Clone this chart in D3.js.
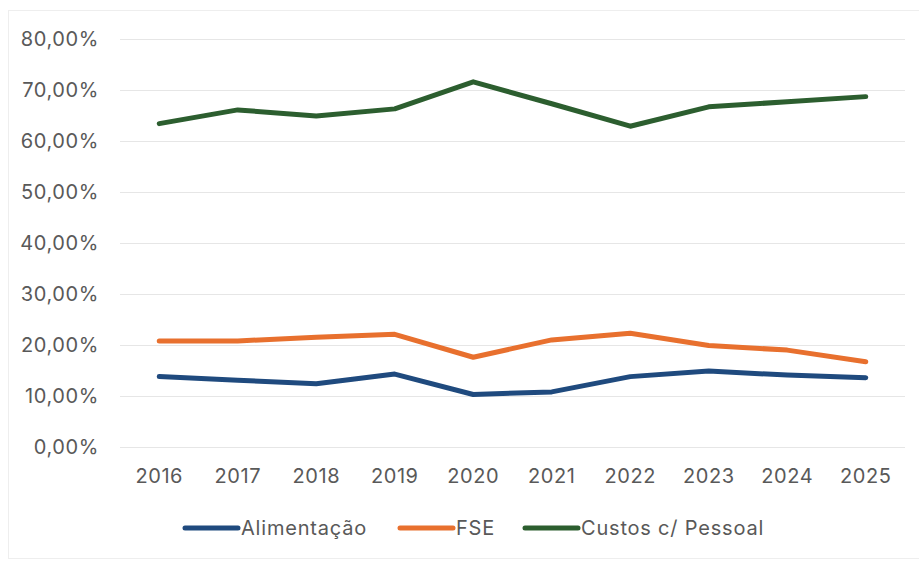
<!DOCTYPE html>
<html>
<head>
<meta charset="utf-8">
<script src="https://cdn.jsdelivr.net/npm/d3@7"></script>
<style>
  body { margin: 0; background: #fff; }
  svg text { font-family: Inter, "Noto Sans", sans-serif; fill: #595959; }
</style>
</head>
<body>
<svg id="chart" width="919" height="561"></svg>
<script>
const years = ['2016', '2017', '2018', '2019', '2020', '2021', '2022', '2023', '2024', '2025'];
const alimentacao = [13.8, 13.1, 12.4, 14.3, 10.3, 10.8, 13.8, 14.9, 14.1, 13.6];
const fse = [20.8, 20.8, 21.5, 22.1, 17.6, 21.0, 22.3, 19.9, 19.0, 16.7];
const custosPessoal = [63.4, 66.1, 64.9, 66.3, 71.6, 67.3, 62.9, 66.7, 67.7, 68.7];
const yTicks = [0, 10, 20, 30, 40, 50, 60, 70, 80];
const seriesNames = ['Alimentação', 'FSE', 'Custos c/ Pessoal'];

const series = [
  {name: seriesNames[0], values: alimentacao, color: '#1f4a7e'},
  {name: seriesNames[1], values: fse, color: '#e8702e'},
  {name: seriesNames[2], values: custosPessoal, color: '#2c5e2f'}
];

const svg = d3.select('#chart');
const margin = {top: 39, left: 120, right: 14, bottom: 114};
const width = 919 - margin.left - margin.right;
const height = 561 - margin.top - margin.bottom;

// faint frame round the chart
svg.append('rect')
  .attr('x', 8.5).attr('y', 10.5)
  .attr('width', 915).attr('height', 548)
  .attr('fill', 'none')
  .attr('stroke', '#eeeeee');

const plot = svg.append('g')
  .attr('transform', `translate(${margin.left}, ${margin.top})`);

const xScale = d3.scaleBand()
  .domain(years)
  .range([0, width]);

const yScale = d3.scaleLinear()
  .domain([0, 80])
  .range([height, 0]);

const fmt = v => d3.format('.2f')(v).replace('.', ',') + '%';

// gridlines + y labels
const yAxis = d3.axisLeft(yScale)
  .tickValues(yTicks)
  .tickSize(-width)
  .tickPadding(21)
  .tickFormat(fmt);

plot.append('g')
  .attr('class', 'y-axis')
  .call(yAxis)
  .call(g => g.select('.domain').remove())
  .call(g => g.selectAll('.tick line').attr('stroke', '#e6e6e6').attr('stroke-width', 1.2))
  .call(g => g.selectAll('.tick text').attr('font-size', 20).attr('letter-spacing', 0.6).attr('fill', '#595959'));

const xAxis = d3.axisBottom(xScale).tickSize(0).tickPadding(22);

plot.append('g')
  .attr('class', 'x-axis')
  .attr('transform', `translate(0, ${height})`)
  .call(xAxis)
  .call(g => g.select('.domain').remove())
  .call(g => g.selectAll('.tick text').attr('font-size', 20).attr('letter-spacing', 0.6).attr('fill', '#595959'));

const line = d3.line()
  .x((d, i) => xScale(years[i]) + xScale.bandwidth() / 2)
  .y(d => yScale(d));

plot.selectAll('.series-line')
  .data(series)
  .join('path')
    .attr('class', 'series-line')
    .attr('d', d => line(d.values))
    .attr('fill', 'none')
    .attr('stroke', d => d.color)
    .attr('stroke-width', 5)
    .attr('stroke-linejoin', 'round')
    .attr('stroke-linecap', 'round');

// legend
const legendX = [185, 400, 525];
const legend = svg.append('g').attr('class', 'legend');
const items = legend.selectAll('g')
  .data(series)
  .join('g')
    .attr('transform', (d, i) => `translate(${legendX[i]}, 528)`);

items.append('line')
  .attr('x1', 0).attr('x2', 53)
  .attr('stroke', d => d.color)
  .attr('stroke-width', 5)
  .attr('stroke-linecap', 'round');

items.append('text')
  .attr('x', 56)
  .attr('dy', '0.35em')
  .attr('font-size', 20)
  .attr('letter-spacing', 0.8)
  .text(d => d.name);
</script>
</body>
</html>
